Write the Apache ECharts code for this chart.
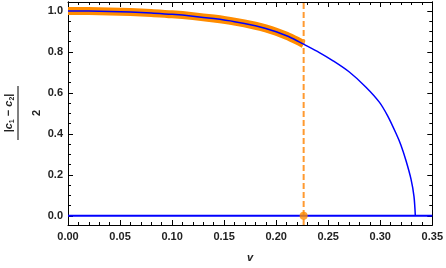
<!DOCTYPE html>
<html>
<head>
<meta charset="utf-8">
<script src="https://cdn.jsdelivr.net/npm/echarts@6/dist/echarts.min.js"></script>
<style>
  html, body { margin: 0; padding: 0; background: #fff; }
  #chart { width: 446px; height: 268px; }
</style>
</head>
<body>
<div id="chart"></div>
<script>
// values
const vCurve = [0, 0.02, 0.04, 0.06, 0.08, 0.10, 0.12, 0.14, 0.16, 0.18, 0.19, 0.20, 0.21, 0.22, 0.2264,
  0.2415, 0.2543, 0.2703, 0.2863, 0.2991, 0.3071, 0.3151, 0.3199, 0.3247, 0.3295, 0.3324, 0.3337]
const yCurve = [1.0, 0.9995, 0.998, 0.995, 0.990, 0.984, 0.975, 0.963, 0.948, 0.928, 0.915, 0.899, 0.879, 0.855, 0.838,
  0.797, 0.758, 0.702, 0.628, 0.555, 0.488, 0.403, 0.345, 0.27, 0.18, 0.095, 0]
const vZero = [0, 0.35]
const yZero = [0, 0]
const vCrit = 0.2264
const xTicks = [0, 0.05, 0.1, 0.15, 0.2, 0.25, 0.3, 0.35]
const yTicks = [0, 0.2, 0.4, 0.6, 0.8, 1.0]
const yMinorTicks = [0.05, 0.1, 0.15, 0.25, 0.3, 0.35, 0.45, 0.5, 0.55, 0.65, 0.7, 0.75, 0.85, 0.9, 0.95]
const yRange = [-0.045, 1.044]

const curve = vCurve.map((v, i) => [v, yCurve[i]])
const band = curve.filter((p) => p[0] <= vCrit + 1e-9)
const zero = vZero.map((v, i) => [v, yZero[i]])

const labelFont = {
  color: '#222',
  fontFamily: 'Liberation Sans',
  fontWeight: 'bold',
  fontSize: 11,
}

const myChart = echarts.init(document.getElementById('chart'), null, { renderer: 'canvas' })

const xBase = {
  type: 'value',
  min: xTicks[0],
  max: xTicks[xTicks.length - 1],
  interval: 0.05,
  axisLine: { onZero: false, lineStyle: { color: '#000', width: 1 } },
  axisTick: { inside: true, length: 5, lineStyle: { color: '#000' } },
  minorTick: { show: true, splitNumber: 5, length: 3, lineStyle: { color: '#000' } },
  splitLine: { show: false },
}

const yBase = {
  type: 'value',
  min: yRange[0],
  max: yRange[1],
  axisLine: { onZero: false, lineStyle: { color: '#000', width: 1 } },
  splitLine: { show: false },
  axisLabel: { show: false },
}

const sub = { fontSize: 7, fontWeight: 'bold', fontFamily: 'Liberation Sans', fill: '#222', verticalAlign: 'bottom', lineHeight: 13 }
const ital = { fontSize: 11, fontStyle: 'italic', fontWeight: 'bold', fontFamily: 'Liberation Sans', fill: '#222', lineHeight: 13 }
const norm = { fontSize: 11, fontWeight: 'bold', fontFamily: 'Liberation Sans', fill: '#222', lineHeight: 13 }

myChart.setOption({
  animation: false,
  grid: { left: 68, right: 13, top: 2, bottom: 43, containLabel: false },
  xAxis: [
    {
      ...xBase,
      position: 'bottom',
      name: 'v',
      nameLocation: 'middle',
      nameGap: 27,
      nameTextStyle: { ...labelFont, fontStyle: 'italic' },
      axisLabel: { ...labelFont, margin: 6, formatter: (v) => v.toFixed(2) },
    },
    {
      ...xBase,
      position: 'top',
      axisLabel: { show: false },
    },
  ],
  yAxis: [
    {
      ...yBase,
      position: 'left',
      axisTick: { inside: true, length: 5, customValues: yTicks, lineStyle: { color: '#000' } },
      axisLabel: { ...labelFont, margin: 5, customValues: yTicks, formatter: (v) => v.toFixed(1) },
    },
    {
      ...yBase,
      position: 'left',
      axisTick: { inside: true, length: 3, customValues: yMinorTicks, lineStyle: { color: '#000' } },
    },
    {
      ...yBase,
      position: 'right',
      axisTick: { inside: true, length: 5, customValues: yTicks, lineStyle: { color: '#000' } },
    },
    {
      ...yBase,
      position: 'right',
      axisTick: { inside: true, length: 3, customValues: yMinorTicks, lineStyle: { color: '#000' } },
    },
  ],
  graphic: [
    {
      type: 'group',
      x: 18,
      y: 113,
      rotation: Math.PI / 2,
      children: [
        {
          type: 'line',
          shape: { x1: -27, y1: 0, x2: 27, y2: 0 },
          style: { stroke: '#000', lineWidth: 1 },
        },
        {
          type: 'text',
          x: 0,
          y: -9,
          style: {
            text: '{n||}{i|c}{s|1}{n| − }{i|c}{s|2}{n||}',
            rich: { i: ital, s: sub, n: norm },
            align: 'center',
            verticalAlign: 'middle',
          },
        },
        {
          type: 'text',
          x: 0,
          y: 19,
          style: {
            text: '2',
            font: 'bold 11px "Liberation Sans"',
            fill: '#222',
            align: 'center',
            verticalAlign: 'middle',
          },
        },
      ],
    },
  ],
  series: [
    {
      type: 'line',
      data: band,
      showSymbol: false,
      smooth: 0.3,
      lineStyle: { color: '#FF8C00', width: 8 },
      z: 2,
    },
    {
      type: 'line',
      data: [[vCrit, yRange[0]], [vCrit, yRange[1]]],
      showSymbol: false,
      lineStyle: { color: '#FF9A30', width: 2, type: [6, 3] },
      z: 3,
    },
    {
      type: 'line',
      data: zero,
      showSymbol: false,
      lineStyle: { color: '#0000FF', width: 2 },
      z: 4,
    },
    {
      type: 'line',
      data: curve,
      showSymbol: false,
      smooth: 0.3,
      lineStyle: { color: '#0000FF', width: 1.5 },
      z: 5,
    },
    {
      type: 'scatter',
      data: [[vCrit, 0]],
      symbol: 'circle',
      symbolSize: 8,
      itemStyle: { color: '#FF8C00' },
      z: 6,
    },
  ],
})
</script>
</body>
</html>
